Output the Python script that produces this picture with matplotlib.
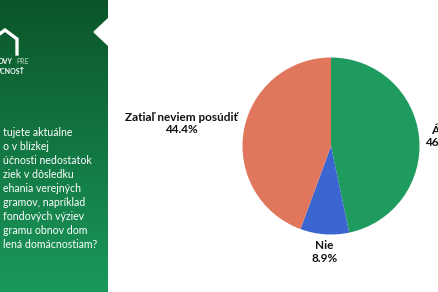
import numpy as np
import matplotlib.pyplot as plt
from matplotlib.patches import Polygon

# survey answers
labels = ["Áno", "Nie", "Zatiaľ neviem posúdiť"]
shares = [46.7, 8.9, 44.4]
colors = ["#1f9b60", "#3b66d0", "#e0765b"]

# visible fragments of the question text in the left panel
question = ["tujete aktuálne", "o v blízkej", "účnosti nedostatok", "ziek v dôsledku",
            "ehania verejných", "gramov, napríklad", "fondových výziev",
            "gramu obnov dom", "lená domácnostiam?"]

W, H = 438, 292
fig = plt.figure(figsize=(W / 100, H / 100), dpi=100)
fig.patch.set_facecolor("white")
font = "Lato"

# left green panel with gradient
side = fig.add_axes([0, 0, 108 / W, 1])
grad = np.linspace(0, 1, 256).reshape(-1, 1)
cmap = plt.matplotlib.colors.LinearSegmentedColormap.from_list("g", ["#0b5529", "#1a985c"])
side.imshow(grad, aspect="auto", cmap=cmap, extent=[0, 108, H, 0])
side.set_xlim(0, 108)
side.set_ylim(H, 0)
side.axis("off")

# white notch and house logo
side.add_patch(Polygon([(109, 18), (94, 32), (109, 46)], closed=True, color="white"))
side.plot([-10, 5, 17, 17], [41, 30, 39, 54], color="white", lw=2.4,
          solid_joinstyle="miter", clip_on=True)
side.text(-2, 62, "OVY", color="white", fontsize=5, fontweight="bold",
          family=font, va="center")
side.text(16, 62, "PRE", color="#bcd8c6", fontsize=5, family=font, va="center")
side.text(-4, 72, "ÚCNOSŤ", color="white", fontsize=5, fontweight="bold",
          family=font, va="center")

for i, line in enumerate(question):
    side.text(3, 133 + i * 14, line, color="white", fontsize=7.6, family=font,
              va="center", ha="left")

# pie chart
r = 88.5
ax = fig.add_axes([(331 - r) / W, (H - 146 - r) / H, 2 * r / W, 2 * r / H])
wedges, _ = ax.pie(shares, colors=colors, startangle=90, counterclock=False,
                   radius=1, wedgeprops=dict(linewidth=0))
ax.set_xlim(-1, 1)
ax.set_ylim(-1, 1)
ax.set_aspect("equal")

for w, lab, val in zip(wedges, labels, shares):
    ang = np.deg2rad((w.theta1 + w.theta2) / 2)
    x, y = 1.07 * np.cos(ang), 1.07 * np.sin(ang)
    if abs(x) < 0.3:
        ha = "center"
    else:
        ha = "left" if x > 0 else "right"
    dy = 0
    if y < -0.9:
        va = "top"
    elif y > 0.15:
        va, dy = "bottom", -4
    else:
        va = "center"
    ax.annotate(f"{lab}\n{val:.1f}%", (x, y), xytext=(0, dy), textcoords="offset points",
                ha=ha, va=va, fontsize=8.5, fontweight="bold", family=font,
                color="#111111", annotation_clip=False, linespacing=1.15,
                multialignment="center")

fig.savefig("out.png", dpi=100)
